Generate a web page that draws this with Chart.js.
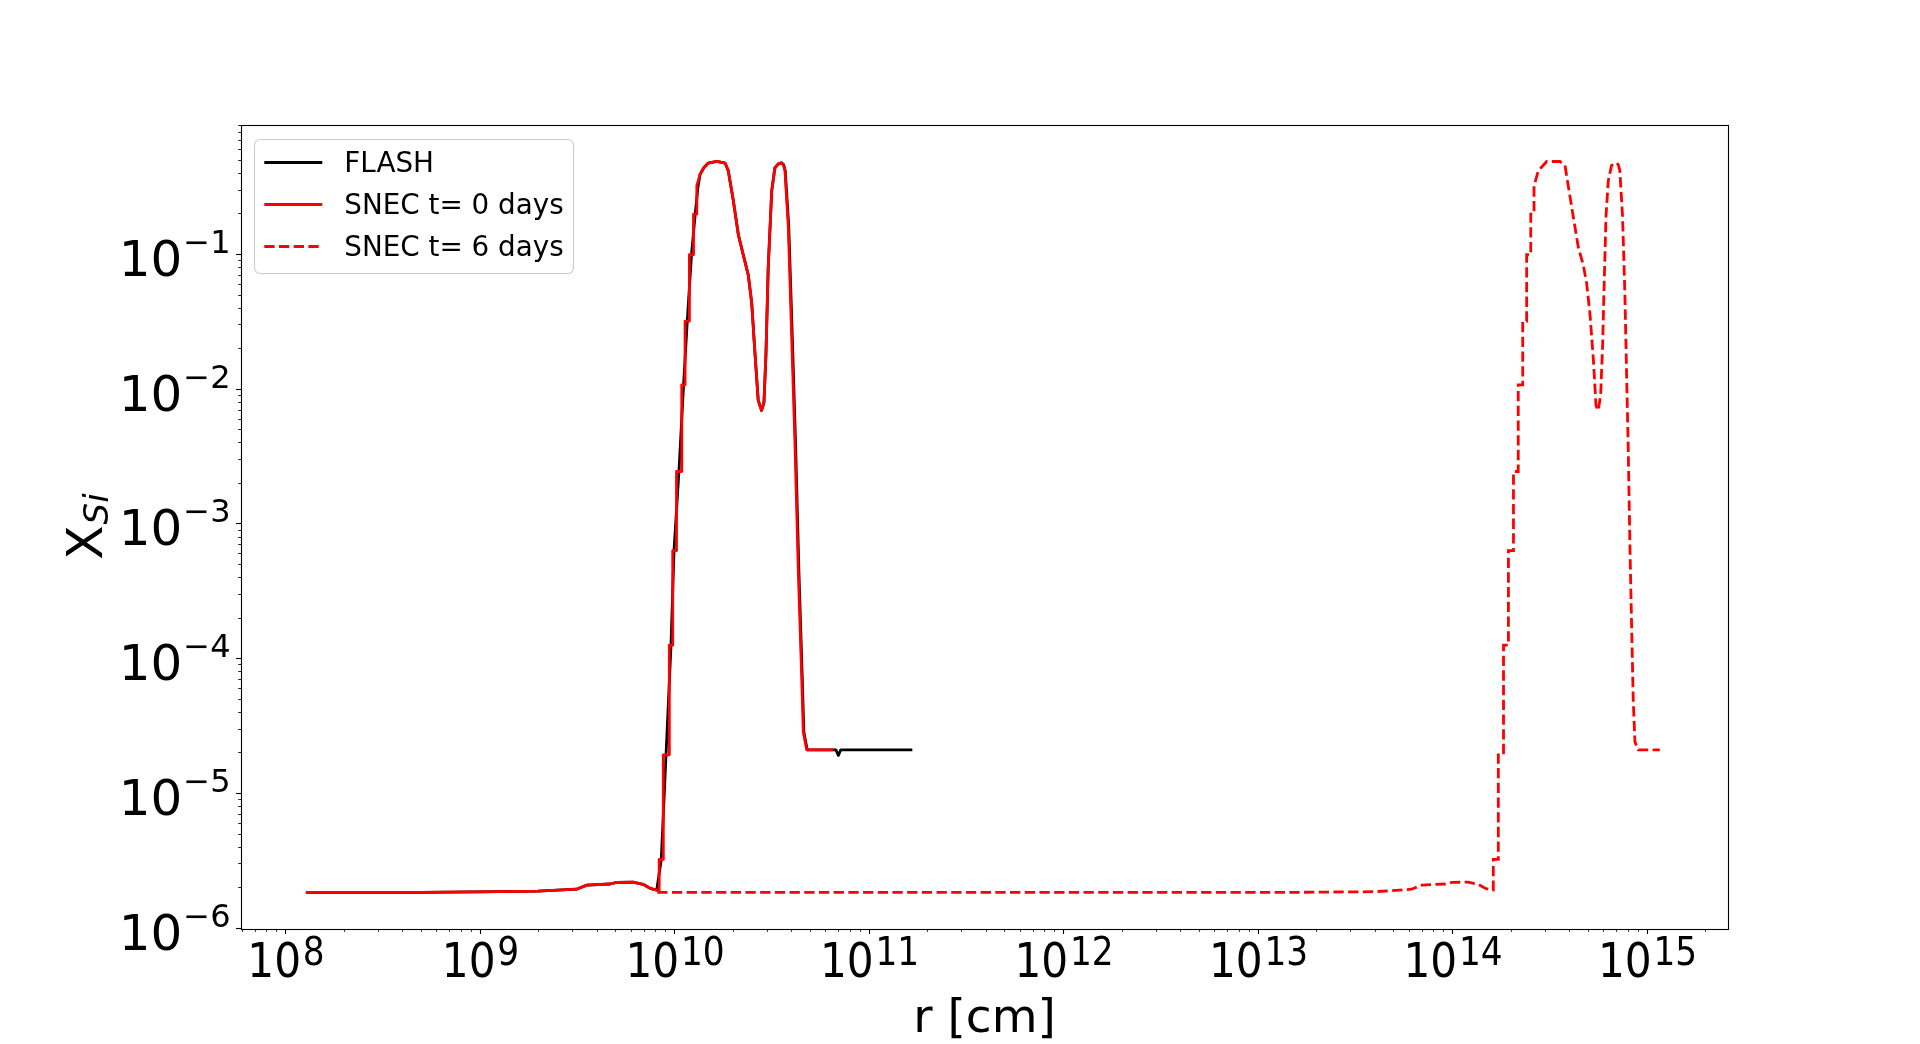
<!DOCTYPE html>
<html>
<head>
<meta charset="utf-8">
<script src="https://cdn.jsdelivr.net/npm/chart.js@4.4.1/dist/chart.umd.min.js"></script>
<style>
    html, body { margin: 0; padding: 0; background: #ffffff; }
    canvas { display: block; }
</style>
</head>
<body>
<canvas id="chartSi" width="1920" height="1044"></canvas>
<script>
// series names
var seriesNames = ['FLASH', 'SNEC t= 0 days', 'SNEC t= 6 days'];

// FLASH profile, r [cm] / X_Si
var flashR = [1.28e8, 5e8, 1.27e9, 2.0e9, 3.16e9, 3.56e9, 4.69e9, 5.07e9, 6.15e9, 6.93e9, 7.53e9, 8.15e9,
    8.6e9, 9.1e9, 9.65e9, 1.0e10, 1.06e10, 1.12e10, 1.17e10, 1.23e10, 1.285e10, 1.33e10, 1.36e10, 1.42e10,
    1.5e10, 1.66e10, 1.83e10, 1.9e10, 2.02e10, 2.14e10, 2.27e10, 2.41e10, 2.51e10, 2.61e10, 2.71e10, 2.82e10,
    2.9e10, 2.97e10, 3.05e10, 3.18e10, 3.3e10, 3.43e10, 3.58e10, 3.66e10, 3.73e10, 3.89e10, 4.06e10, 4.22e10,
    4.39e10, 4.57e10, 4.65e10, 4.84e10, 6.8e10, 7.0e10, 7.2e10, 1.68e11];
var flashX = [1.83e-6, 1.83e-6, 1.85e-6, 1.87e-6, 1.93e-6, 2.07e-6, 2.11e-6, 2.17e-6, 2.18e-6, 2.1e-6, 1.96e-6, 1.9e-6,
    3.21e-6, 1.92e-5, 1.25e-4, 6.28e-4, 2.43e-3, 1.07e-2, 3.18e-2, 9.87e-2, 0.198, 0.32, 0.388, 0.435,
    0.473, 0.486, 0.473, 0.416, 0.247, 0.14, 0.0986, 0.0696, 0.043, 0.018, 8.2e-3, 6.9e-3,
    7.9e-3, 0.018, 0.079, 0.294, 0.435, 0.465, 0.475, 0.46, 0.416, 0.16, 0.0234, 3.76e-3,
    4.24e-4, 6.8e-5, 2.84e-5, 2.09e-5, 2.09e-5, 1.9e-5, 2.09e-5, 2.09e-5];

// SNEC at t = 0 days
var snec0R = [1.28e8, 5e8, 1.27e9, 2.0e9, 3.16e9, 3.56e9, 4.69e9, 5.07e9, 6.15e9, 6.93e9, 7.53e9, 8.15e9,
    8.39e9, 8.39e9, 8.81e9, 8.81e9, 9.46e9, 9.46e9, 9.85e9, 9.85e9, 1.03e10, 1.03e10, 1.096e10, 1.096e10,
    1.14e10, 1.14e10, 1.2e10, 1.2e10, 1.26e10, 1.26e10, 1.31e10, 1.31e10, 1.36e10, 1.42e10, 1.5e10, 1.66e10,
    1.83e10, 1.9e10, 2.02e10, 2.14e10, 2.27e10, 2.41e10, 2.51e10, 2.61e10, 2.71e10, 2.82e10, 2.9e10, 2.97e10,
    3.05e10, 3.18e10, 3.3e10, 3.42e10, 3.55e10, 3.65e10, 3.72e10, 3.87e10, 4.03e10, 4.19e10, 4.36e10, 4.54e10,
    4.62e10, 4.81e10, 6.6e10];
var snec0X = [1.83e-6, 1.83e-6, 1.85e-6, 1.87e-6, 1.93e-6, 2.07e-6, 2.11e-6, 2.17e-6, 2.18e-6, 2.1e-6, 1.96e-6, 1.9e-6,
    1.9e-6, 3.21e-6, 3.21e-6, 1.92e-5, 1.92e-5, 1.25e-4, 1.25e-4, 6.28e-4, 6.28e-4, 2.43e-3, 2.43e-3, 1.07e-2,
    1.07e-2, 3.18e-2, 3.18e-2, 9.87e-2, 9.87e-2, 0.198, 0.198, 0.32, 0.388, 0.435, 0.473, 0.486,
    0.473, 0.416, 0.247, 0.14, 0.0986, 0.0696, 0.043, 0.018, 8.2e-3, 6.9e-3, 7.9e-3, 0.018,
    0.079, 0.294, 0.435, 0.465, 0.475, 0.46, 0.416, 0.16, 0.0234, 3.76e-3, 4.24e-4, 6.8e-5,
    2.84e-5, 2.09e-5, 2.09e-5];

// SNEC at t = 6 days
var snec6R = [8.2e9, 1.5e13, 4.0e13, 6.2e13, 7.0e13, 9.2e13, 1.0e14, 1.21e14, 1.36e14, 1.48e14, 1.6e14,
    1.63e14, 1.63e14, 1.73e14, 1.73e14, 1.84e14, 1.84e14, 1.95e14, 1.95e14, 2.07e14, 2.07e14, 2.19e14, 2.19e14,
    2.31e14, 2.31e14, 2.42e14, 2.42e14, 2.54e14, 2.54e14, 2.64e14, 2.64e14, 2.78e14, 3.07e14, 3.59e14, 3.81e14,
    3.96e14, 4.2e14, 4.46e14, 4.73e14, 4.92e14, 5.12e14, 5.33e14, 5.5e14, 5.65e14, 5.81e14, 5.95e14, 6.04e14,
    6.19e14, 6.36e14, 6.61e14, 6.82e14, 7.01e14, 7.16e14, 7.29e14, 7.53e14, 7.74e14, 7.89e14, 8.05e14, 8.22e14,
    8.38e14, 8.55e14, 8.72e14, 9.06e14, 1.17e15];
var snec6X = [1.83e-6, 1.83e-6, 1.85e-6, 1.93e-6, 2.07e-6, 2.11e-6, 2.17e-6, 2.18e-6, 2.1e-6, 1.96e-6, 1.9e-6,
    1.9e-6, 3.21e-6, 3.21e-6, 1.92e-5, 1.92e-5, 1.25e-4, 1.25e-4, 6.28e-4, 6.28e-4, 2.43e-3, 2.43e-3, 1.07e-2,
    1.07e-2, 3.18e-2, 3.18e-2, 9.87e-2, 9.87e-2, 0.198, 0.198, 0.32, 0.416, 0.486, 0.486, 0.454,
    0.32, 0.19, 0.112, 0.083, 0.061, 0.036, 0.0165, 7.5e-3, 6.9e-3, 8.97e-3, 0.0214, 0.051,
    0.19, 0.35, 0.454, 0.47, 0.475, 0.46, 0.416, 0.19, 0.051, 0.0139, 3.75e-3, 6.6e-4,
    1.77e-4, 4.8e-5, 2.39e-5, 2.09e-5, 2.09e-5];

// tick labels (powers of ten)
var xTickExps = [8, 9, 10, 11, 12, 13, 14, 15];
var yTickExps = [-6, -5, -4, -3, -2, -1];

var xLabel = 'r [cm]';

var toPoints = function (rs, xs) {
    var pts = [];
    for (var i = 0; i < rs.length; i++) {
        pts.push({x: rs[i], y: xs[i]});
    }
    return pts;
};

var supDigits = function (n) {
    return String(n).replace('-', '\u2212');
};

var font = function (size, style) {
    return (style ? style + ' ' : '') + size + 'px "DejaVu Sans"';
};

// draws ticks, tick labels, frame, axis titles and legend like matplotlib does
var mplAxes = {
    id: 'mplAxes',
    afterDraw: function (chart) {
        var c = chart.ctx;
        var a = chart.chartArea;
        var xs = chart.scales.x;
        var ys = chart.scales.y;
        var e, m, p, v;
        c.save();
        c.strokeStyle = '#000000';
        c.fillStyle = '#000000';

        // x ticks
        for (e = 7; e <= 15; e++) {
            for (m = 1; m <= 9; m++) {
                v = m * Math.pow(10, e);
                if (v < xs.min || v > xs.max) continue;
                p = Math.round(xs.getPixelForValue(v)) + 0.5;
                c.lineWidth = m === 1 ? 1.1 : 0.85;
                c.beginPath();
                c.moveTo(p, a.bottom);
                c.lineTo(p, a.bottom + (m === 1 ? 4.9 : 2.8));
                c.stroke();
            }
        }
        // y ticks
        for (e = -7; e <= 0; e++) {
            for (m = 1; m <= 9; m++) {
                v = m * Math.pow(10, e);
                if (v < ys.min || v > ys.max) continue;
                p = Math.round(ys.getPixelForValue(v)) + 0.5;
                c.lineWidth = m === 1 ? 1.1 : 0.85;
                c.beginPath();
                c.moveTo(a.left, p);
                c.lineTo(a.left - (m === 1 ? 4.9 : 2.8), p);
                c.stroke();
            }
        }

        // frame
        c.lineWidth = 1.1;
        c.strokeRect(a.left + 0.5, a.top + 0.5, a.right - a.left, a.bottom - a.top);

        // x tick labels
        xTickExps.forEach(function (ex) {
            var px = xs.getPixelForValue(Math.pow(10, ex));
            var sup = supDigits(ex);
            c.save();
            c.translate(px + 1, 0);
            c.scale(0.88, 1);
            c.font = font(48);
            var wb = c.measureText('10').width;
            c.font = font(39);
            var ws = c.measureText(sup).width;
            var x0 = -(wb + ws + 2) / 2;
            c.textAlign = 'left';
            c.textBaseline = 'alphabetic';
            c.font = font(48);
            c.fillText('10', x0, 977);
            c.font = font(39);
            c.fillText(sup, x0 + wb + 2, 965);
            c.restore();
        });

        // y tick labels
        yTickExps.forEach(function (ex) {
            var py = ys.getPixelForValue(Math.pow(10, ex));
            var sup = supDigits(ex);
            c.font = font(32);
            var ws = c.measureText(sup).width;
            var xr = a.left - 10.5;
            c.textAlign = 'left';
            c.textBaseline = 'alphabetic';
            c.fillText(sup, xr - ws, py - 1);
            c.font = font(50);
            var wb = c.measureText('10').width;
            c.fillText('10', xr - ws - wb - 1, py + 22);
        });

        // x axis title
        c.font = font(47);
        c.textAlign = 'center';
        c.fillText(xLabel, (a.left + a.right) / 2, 1032);

        // y axis title X_Si
        c.save();
        c.translate(101.7, (a.top + a.bottom) / 2);
        c.rotate(-Math.PI / 2);
        c.textAlign = 'left';
        c.font = font(50);
        var wX = c.measureText('X').width;
        c.font = font(34, 'italic');
        var wS = c.measureText('Si').width;
        var y0 = -(wX + wS) / 2;
        c.font = font(50);
        c.fillText('X', y0, 0);
        c.font = font(34, 'italic');
        c.fillText('Si', y0 + wX + 1, 6.5);
        c.restore();

        // legend
        c.beginPath();
        c.roundRect(254.5, 139.5, 319, 134, 5.5);
        c.fillStyle = 'rgba(255,255,255,0.8)';
        c.fill();
        c.strokeStyle = '#cccccc';
        c.lineWidth = 1.1;
        c.stroke();
        chart.data.datasets.forEach(function (ds, i) {
            var ly = 162.5 + i * 42;
            c.strokeStyle = ds.borderColor;
            c.lineWidth = ds.borderWidth;
            c.setLineDash(ds.borderDash || []);
            c.lineCap = 'butt';
            c.beginPath();
            c.moveTo(264.3, ly);
            c.lineTo(322.3, ly);
            c.stroke();
            c.setLineDash([]);
            c.fillStyle = '#000000';
            c.font = font(27.8);
            c.textAlign = 'left';
            c.fillText(ds.label, 344.3, ly + 9.5);
        });
        c.restore();
    }
};

var ctx = document.getElementById('chartSi').getContext('2d');
var chartSi = new Chart(ctx, {
    type: 'scatter',
    data: {
        datasets: [
            {
                label: seriesNames[0],
                data: toPoints(flashR, flashX),
                showLine: true,
                borderColor: '#000000',
                borderWidth: 2.8,
                pointRadius: 0,
                borderJoinStyle: 'round',
                order: 2
            },
            {
                label: seriesNames[1],
                data: toPoints(snec0R, snec0X),
                showLine: true,
                borderColor: '#ff0000',
                borderWidth: 2.8,
                pointRadius: 0,
                borderJoinStyle: 'round',
                order: 1
            },
            {
                label: seriesNames[2],
                data: toPoints(snec6R, snec6X),
                showLine: true,
                borderColor: '#ff0000',
                borderWidth: 2.8,
                borderDash: [10.3, 4.4],
                pointRadius: 0,
                order: 0
            }
        ]
    },
    options: {
        responsive: false,
        animation: false,
        layout: {padding: {left: 241, top: 125, right: 192, bottom: 115}},
        plugins: {
            legend: {display: false},
            tooltip: {enabled: false}
        },
        scales: {
            x: {
                type: 'logarithmic',
                display: false,
                bounds: 'data',
                min: 5.94e7,
                max: 2.624e15
            },
            y: {
                type: 'logarithmic',
                display: false,
                bounds: 'data',
                min: 9.78e-7,
                max: 0.9066
            }
        }
    },
    plugins: [mplAxes]
});
</script>
</body>
</html>
